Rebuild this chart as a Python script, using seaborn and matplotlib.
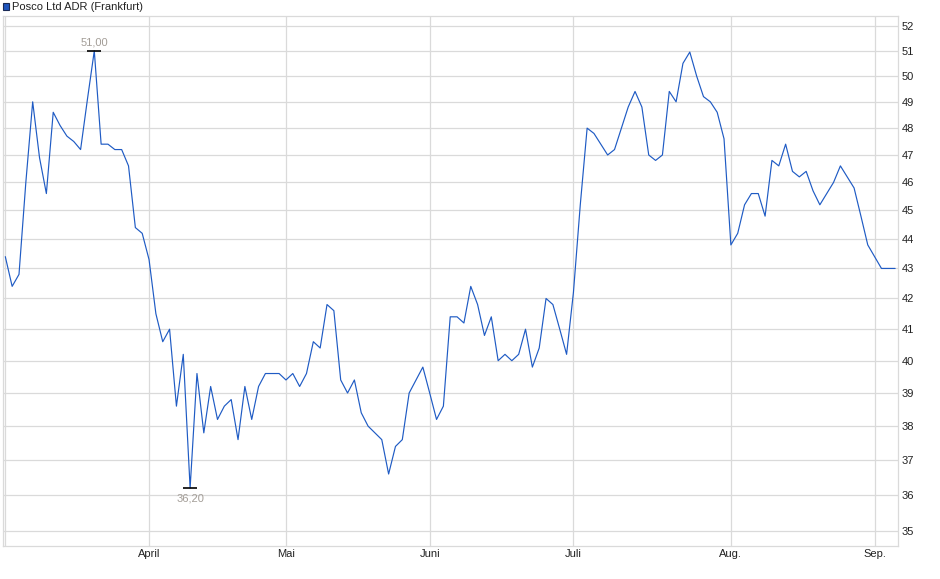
import numpy as np
import pandas as pd
import seaborn as sns
import matplotlib
matplotlib.use("Agg")
import matplotlib.pyplot as plt

# closing prices (EUR), one per trading day
PRICES = [
    43.4, 42.4, 42.8, 46.0, 49.0, 46.9, 45.6, 48.6, 48.1, 47.7,
    47.5, 47.2, 49.1, 51.0, 47.4, 47.4, 47.2, 47.2, 46.6, 44.4,
    44.2, 43.3, 41.5, 40.6, 41.0, 38.6, 40.2, 36.2, 39.6, 37.8,
    39.2, 38.2, 38.6, 38.8, 37.6, 39.2, 38.2, 39.2, 39.6, 39.6,
    39.6, 39.4, 39.6, 39.2, 39.6, 40.6, 40.4, 41.8, 41.6, 39.4,
    39.0, 39.4, 38.4, 38.0, 37.8, 37.6, 36.6, 37.4, 37.6, 39.0,
    39.4, 39.8, 39.0, 38.2, 38.6, 41.4, 41.4, 41.2, 42.4, 41.8,
    40.8, 41.4, 40.0, 40.2, 40.0, 40.2, 41.0, 39.8, 40.4, 42.0,
    41.8, 41.0, 40.2, 42.2, 45.2, 48.0, 47.8, 47.4, 47.0, 47.2,
    48.0, 48.8, 49.4, 48.8, 47.0, 46.8, 47.0, 49.4, 49.0, 50.5,
    50.95, 50.0, 49.2, 49.0, 48.6, 47.6, 43.8, 44.2, 45.2, 45.6,
    45.6, 44.8, 46.8, 46.6, 47.4, 46.4, 46.2, 46.4, 45.7, 45.2,
    45.6, 46.0, 46.6, 46.2, 45.8, 44.8, 43.8, 43.4, 43.0, 43.0,
    43.0,
]
# first trading day of each month (index into PRICES)
MONTH_POS = [0, 21, 41, 62, 83, 106, 127]
MONTH_LABELS = ["", "April", "Mai", "Juni", "Juli", "Aug.", "Sep."]
Y_TICKS = list(range(35, 53))
TITLE = "Posco Ltd ADR (Frankfurt)"

LINE_COLOR = "#1f5bc4"
GRID_COLOR = "#dadada"
LABEL_GRAY = "#a39d97"

df = pd.DataFrame({"day": np.arange(len(PRICES)), "price": PRICES})

sns.set_theme(style="white")
plt.rcParams["font.family"] = ["Liberation Sans", "DejaVu Sans"]

W, H = 940, 579
fig = plt.figure(figsize=(W / 100, H / 100), dpi=100)
left, right, top, bottom = 2.7, 898.3, 16.0, 545.7
ax = fig.add_axes([left / W, 1 - bottom / H, (right - left) / W, (bottom - top) / H])

sns.lineplot(data=df, x="day", y="price", ax=ax, color=LINE_COLOR, linewidth=0.85)

ax.set_yscale("log")
ax.set_ylim(34.60, 52.41)
ax.set_xlim(-0.38, 130.46)

ax.yaxis.tick_right()
ax.set_yticks(Y_TICKS)
ax.set_yticklabels([str(v) for v in Y_TICKS])
ax.yaxis.set_minor_locator(matplotlib.ticker.NullLocator())
ax.set_xticks(MONTH_POS)
ax.set_xticklabels(MONTH_LABELS)
ax.tick_params(axis="both", length=0, labelsize=8, colors="#222222")
ax.tick_params(axis="y", pad=2.5)
ax.tick_params(axis="x", pad=2.5)
ax.set_xlabel("")
ax.set_ylabel("")

ax.grid(True, color=GRID_COLOR, linewidth=0.9)
ax.set_axisbelow(True)
for sp in ax.spines.values():
    sp.set_color(GRID_COLOR)
    sp.set_linewidth(0.9)

# high / low markers
prices = np.array(PRICES)
for idx, off, va in [(int(prices.argmax()), 3.6, "baseline"), (int(prices.argmin()), -4.0, "top")]:
    val = prices[idx]
    ax.plot([idx], [val], marker="_", markersize=10, markeredgewidth=1.2, color="black")
    ax.annotate(f"{val:.2f}".replace(".", ","), (idx, val), xytext=(0, off),
                textcoords="offset points", ha="center", va=va,
                fontsize=8, color=LABEL_GRAY)

# legend header
fig.patches.append(plt.Rectangle((2.7 / W, 1 - 9.5 / H), 6.5 / W, 6.5 / H,
                                 transform=fig.transFigure, facecolor="#1f55bd",
                                 edgecolor="#1a2a55", linewidth=0.8))
fig.text(12.5 / W, 1 - 6.5 / H, TITLE, ha="left", va="center", fontsize=8, color="#222222")

fig.savefig("out.png", dpi=100)
